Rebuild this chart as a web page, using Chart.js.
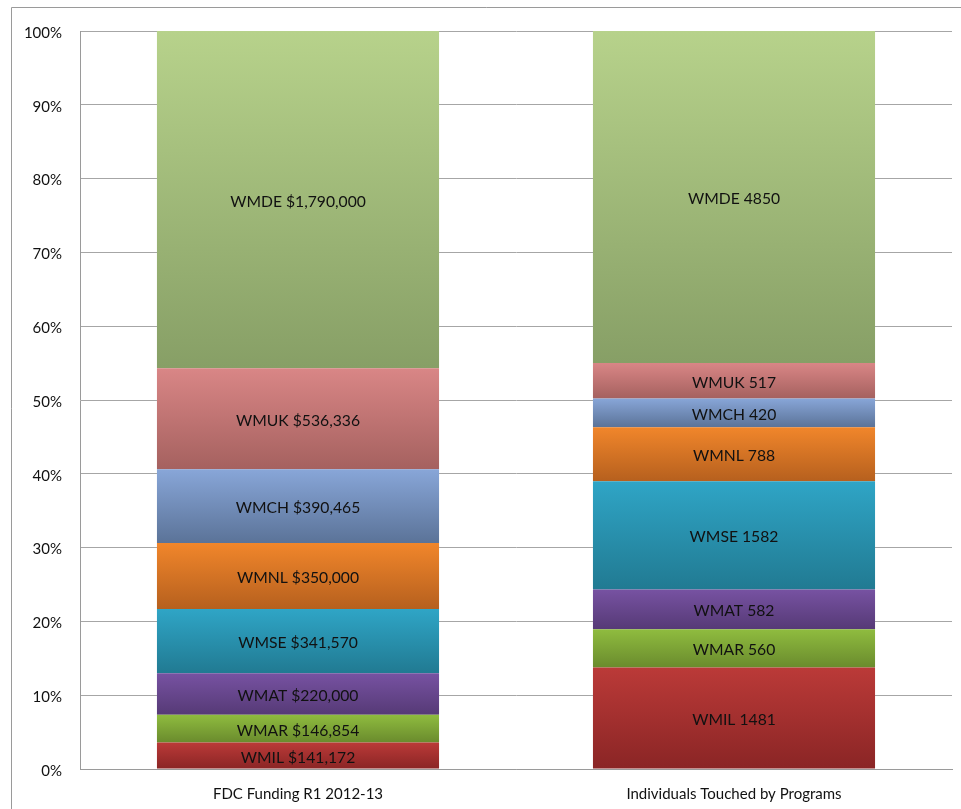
<!DOCTYPE html>
<html>
<head>
<meta charset="utf-8">
<script src="https://cdn.jsdelivr.net/npm/chart.js@4"></script>
<style>
  html, body { margin: 0; padding: 0; background: #fff; }
  #wrap { width: 961px; height: 809px; }
</style>
</head>
<body>
<div id="wrap"><canvas id="fdcChart" width="961" height="809"></canvas></div>
<script>
// categories on the x axis
const categories = ['FDC Funding R1 2012-13', 'Individuals Touched by Programs'];

// chapters, bottom of the stack first
const chapters = ['WMIL', 'WMAR', 'WMAT', 'WMSE', 'WMNL', 'WMCH', 'WMUK', 'WMDE'];

// raw values per chapter (funding in $, people)
const funding     = [141172, 146854, 220000, 341570, 350000, 390465, 536336, 1790000];
const individuals = [1481, 560, 582, 1582, 788, 420, 517, 4850];

const yTicks = [0, 10, 20, 30, 40, 50, 60, 70, 80, 90, 100];

// top / bottom gradient colours per chapter
const topColors = ['#bb3a38', '#8fbc3f', '#7752a2', '#2fa5c6', '#f1862b', '#88a6d8', '#d98686', '#b7d28b'];
const bottomColors = ['#8a2525', '#6a8b2d', '#563a76', '#217a92', '#b6601e', '#5b7398', '#a5615f', '#879f66'];

const fundTotal = funding.reduce((a, b) => a + b, 0);
const indTotal = individuals.reduce((a, b) => a + b, 0);

function fmtMoney(v) {
    return '$' + v.toLocaleString('en-US');
}

const datasets = chapters.map(function(name, i) {
    return {
        label: name,
        data: [funding[i] / fundTotal * 100, individuals[i] / indTotal * 100],
        texts: [name + ' ' + fmtMoney(funding[i]), name + ' ' + individuals[i]],
        backgroundColor: function(ctx) {
            const chart = ctx.chart;
            if (!chart.chartArea || ctx.type !== 'data') return topColors[i];
            const y = chart.scales.y;
            // cumulative position of this segment
            let below = 0;
            for (let d = 0; d < i; d++) below += chart.data.datasets[d].data[ctx.dataIndex];
            const yBottom = y.getPixelForValue(below);
            const yTop = y.getPixelForValue(below + ctx.raw);
            const g = chart.ctx.createLinearGradient(0, yTop, 0, yBottom);
            g.addColorStop(0, topColors[i]);
            g.addColorStop(1, bottomColors[i]);
            return g;
        },
        borderWidth: 0,
        barPercentage: 0.647,
        categoryPercentage: 1.0
    };
});

// text in the middle of each segment
const segmentLabels = {
    id: 'segmentLabels',
    afterDatasetsDraw: function(chart) {
        const c = chart.ctx;
        c.save();
        c.font = '15.7px Lato, "Open Sans", sans-serif';
        c.fillStyle = '#111';
        c.textAlign = 'center';
        c.textBaseline = 'middle';
        chart.data.datasets.forEach(function(ds, di) {
            chart.getDatasetMeta(di).data.forEach(function(bar, idx) {
                const midY = (bar.y + bar.base) / 2 + 2;
                c.fillText(ds.texts[idx], bar.x, midY);
            });
        });
        c.restore();
    }
};

// thin frame around the chart, cut off on the right and bottom
const frame = {
    id: 'frame',
    beforeDraw: function(chart) {
        const c = chart.ctx;
        c.save();
        c.strokeStyle = '#9a9a9a';
        c.lineWidth = 1;
        c.beginPath();
        c.moveTo(11.5, chart.height);
        c.lineTo(11.5, 7.5);
        c.lineTo(chart.width, 7.5);
        c.stroke();
        c.restore();
    }
};

const ctx = document.getElementById('fdcChart').getContext('2d');
const fdcChart = new Chart(ctx, {
    type: 'bar',
    data: {
        labels: categories,
        datasets: datasets
    },
    options: {
        responsive: false,
        animation: false,
        layout: {
            padding: { left: 0, top: 31, right: 9, bottom: 0 }
        },
        plugins: {
            legend: { display: false },
            tooltip: { enabled: false }
        },
        scales: {
            x: {
                stacked: true,
                grid: { display: false, drawTicks: false },
                border: { display: true, color: '#9a9a9a', width: 1 },
                ticks: {
                    color: '#111',
                    font: { family: 'Lato, "Open Sans", sans-serif', size: 15 },
                    padding: 16
                },
                afterFit: function(scale) { scale.height = 40; }
            },
            y: {
                stacked: true,
                min: 0,
                max: 100,
                afterBuildTicks: function(scale) {
                    scale.ticks = yTicks.map(v => ({ value: v }));
                },
                grid: { color: '#a6a6a6', lineWidth: 1, drawTicks: false },
                border: { display: true, color: '#9a9a9a', width: 1 },
                ticks: {
                    color: '#111',
                    font: { family: 'Lato, "Open Sans", sans-serif', size: 15 },
                    padding: 18,
                    labelOffset: 2,
                    callback: function(v) { return v + '%'; }
                },
                afterFit: function(scale) { scale.width = 80; }
            }
        }
    },
    plugins: [frame, segmentLabels]
});
</script>
</body>
</html>
